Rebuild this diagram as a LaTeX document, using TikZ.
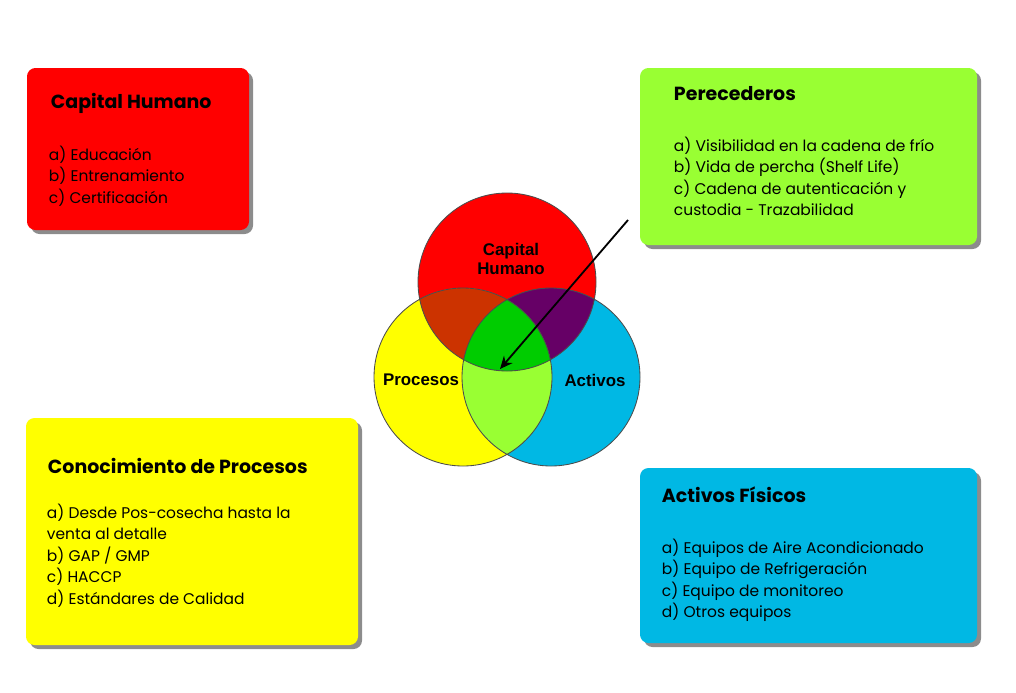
\documentclass[tikz,border=0pt]{standalone}
\usepackage{fontspec}
\setmainfont{Poppins}
\setsansfont{Liberation Sans}
\usetikzlibrary{arrows.meta}
\begin{document}
\begin{tikzpicture}[x=0.025cm,y=-0.025cm,
  ttl/.style={anchor=west,font=\bfseries\fontsize{13.5}{16}\selectfont},
  itm/.style={anchor=north west,align=left,font=\fontsize{11}{15.3}\selectfont},
  lbl/.style={font=\sffamily\bfseries\fontsize{12}{14}\selectfont}]
\useasboundingbox (0,0) rectangle (1016,692);
\def\bx#1#2#3#4#5{%
  \fill[black!45,rounded corners=6pt] (#1+4,#2+4) rectangle (#3+4,#4+4);
  \fill[#5,rounded corners=6pt] (#1,#2) rectangle (#3,#4);}
\definecolor{cred}{RGB}{255,0,0}
\definecolor{cgrn}{RGB}{153,255,51}
\definecolor{cyel}{RGB}{255,255,0}
\definecolor{cblu}{RGB}{0,184,228}
\definecolor{corg}{RGB}{204,51,0}
\definecolor{cpur}{RGB}{102,0,102}
\definecolor{cmid}{RGB}{0,204,0}
\bx{27}{68}{249}{230}{cred}
\bx{640}{68}{977}{245}{cgrn}
\bx{26}{418}{358}{645}{cyel}
\bx{640}{468}{977}{643}{cblu}
\node[ttl] (t1) at (46,103) {Capital Humano};
\node[itm] (i1) at (44,141) {a) Educación\\b) Entrenamiento\\c) Certificación};
\node[ttl] (t2) at (669,94) {Perecederos};
\node[itm] (i2) at (669,132) {a) Visibilidad en la cadena de frío\\b) Vida de percha (Shelf Life)\\c) Cadena de autenticación y\\custodia - Trazabilidad};
\node[ttl] (t3) at (43,466) {Conocimiento de Procesos};
\node[itm] (i3) at (42,499) {a) Desde Pos-cosecha hasta la\\venta al detalle\\b) GAP / GMP\\c) HACCP\\d) Estándares de Calidad};
\node[ttl] (t4) at (657,495) {Activos Físicos};
\node[itm] (i4) at (657,534) {a) Equipos de Aire Acondicionado\\b) Equipo de Refrigeración\\c) Equipo de monitoreo\\d) Otros equipos};
% Venn
\def\R{89}
\fill[cred] (507,282) circle (\R);
\fill[cyel] (463,377) circle (\R);
\fill[cblu] (551,377) circle (\R);
\begin{scope}\clip (507,282) circle (\R); \fill[corg] (463,377) circle (\R); \end{scope}
\begin{scope}\clip (507,282) circle (\R); \fill[cpur] (551,377) circle (\R); \end{scope}
\begin{scope}\clip (463,377) circle (\R); \fill[cgrn] (551,377) circle (\R); \end{scope}
\begin{scope}\clip (463,377) circle (\R); \clip (551,377) circle (\R); \fill[cmid] (507,282) circle (\R); \end{scope}
\draw[black!70,line width=0.6pt] (507,282) circle (\R) (463,377) circle (\R) (551,377) circle (\R);
\node[lbl,align=center] (c1) at (511,259) {Capital\\Humano};
\node[lbl] (c2) at (421,380) {Procesos};
\node[lbl] (c3) at (595,380) {Activos};
\coordinate (a0) at (628,220);
\coordinate (a1) at (500,369);
\draw[line width=1.3pt,-{Stealth[length=9pt,width=8pt]}] (a0) -- (a1);
\end{tikzpicture}
\end{document}
